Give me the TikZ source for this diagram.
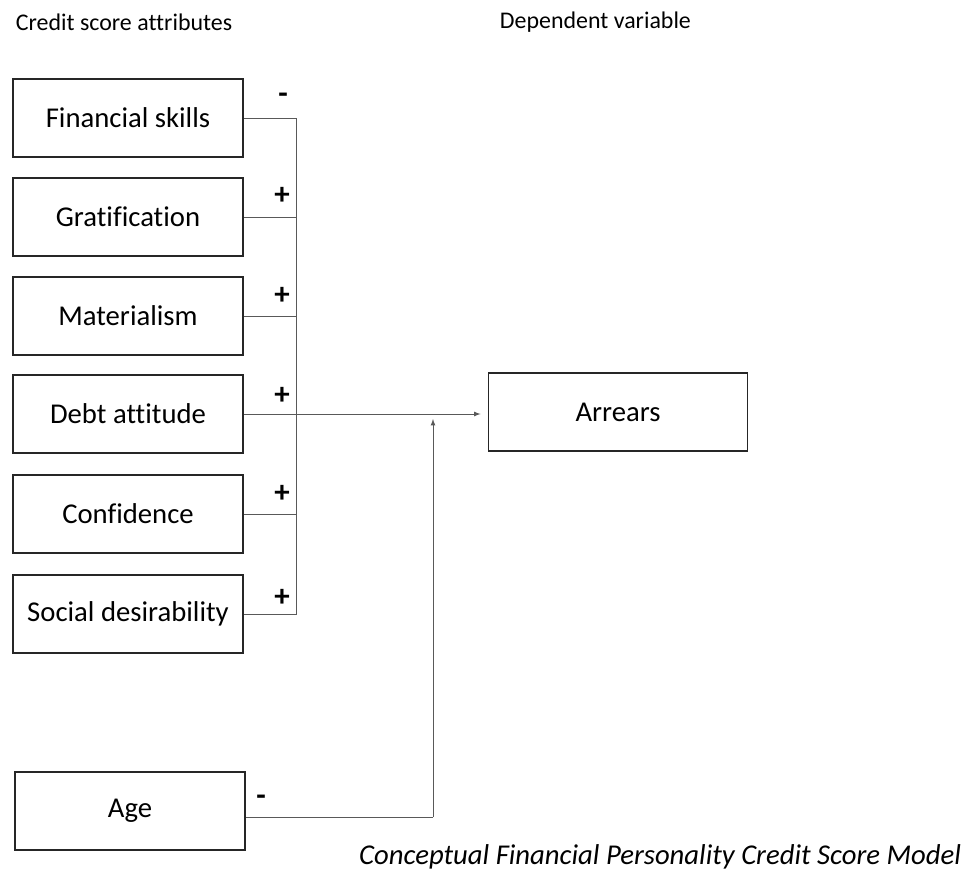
\documentclass[tikz,border=0pt]{standalone}
\usepackage{fontspec}
\setmainfont{Carlito}[Ligatures=NoCommon]
\begin{document}
\begin{tikzpicture}[
    x=0.025cm, y=-0.025cm,
    font=\fontsize{20.4}{24}\selectfont,
    attr/.style={draw=black!85, line width=1.3pt, minimum width=230*0.025cm, minimum height=78*0.025cm, inner sep=0pt},
    link/.style={draw=black!65, line width=0.6pt},
    sign/.style={font=\fontsize{22}{24}\selectfont\bfseries},
    heading/.style={anchor=west, font=\fontsize{17}{20}\selectfont},
]
\useasboundingbox (0,0) rectangle (969,875);

% Headings
\node[heading] (hattr) at (11,22) {Credit score attributes};
\node[heading] (hdep) at (495,22) {Dependent variable};

% Attribute boxes
\node[attr] (fin) at (128,118) {Financial skills};
\node[attr] (grat) at (128,217) {Gratification};
\node[attr] (mat) at (128,316) {Materialism};
\node[attr] (debt) at (128,414) {Debt attitude};
\node[attr] (conf) at (128,514) {Confidence};
\node[attr] (soc) at (128,614) {Social desirability};
\node[attr] (age) at (130,811) {Age};

% Outcome
\node[attr, minimum width=259*0.025cm] (arr) at (618,412) {Arrears};

% Collector line
\coordinate (top) at (296,118);
\coordinate (bot) at (296,614);
\draw[link] (fin.east) -- (top) -- (bot) -- (soc.east);
\foreach \n in {grat, mat, conf} {
    \draw[link] (\n.east) -- (\n.east -| top);
}
\draw[link, -latex, shorten >=5pt] (debt.east) -- (arr.west |- debt.east);

% Age path
\coordinate (agecorner) at (433,817);
\coordinate (agetip) at (433,419);
\draw[link] (age.east |- agecorner) -- (agecorner);
\draw[link, -latex] (agecorner) -- (agetip);

% Signs
\node[sign] (sfin) at (283,98) {-};
\node[sign] (sgrat) at (282,196) {+};
\node[sign] (smat) at (282,296) {+};
\node[sign] (sdebt) at (282,396) {+};
\node[sign] (sconf) at (282,494) {+};
\node[sign] (ssoc) at (282,598) {+};
\node[sign] (sage) at (261,800) {-};

% Caption
\node[anchor=east, font=\fontsize{20.4}{24}\selectfont\itshape] (cap) at (966,857) {Conceptual Financial Personality Credit Score Model};

\end{tikzpicture}
\end{document}
